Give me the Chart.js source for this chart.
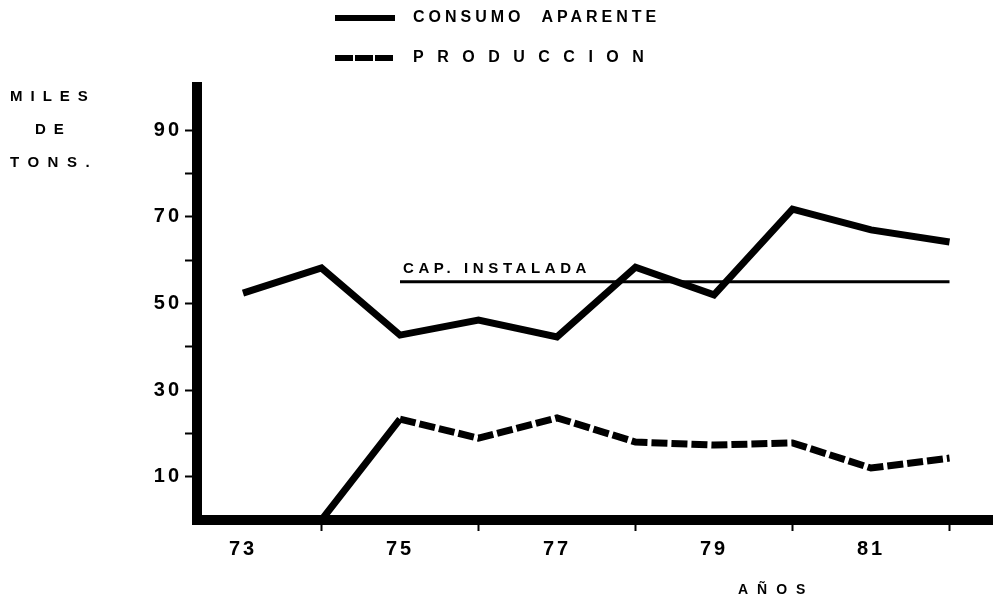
<!DOCTYPE html>
<html lang="es">
<head>
<meta charset="UTF-8" />
<title>Consumo aparente y produccion</title>
<style>
  html, body { margin: 0; padding: 0; background: #fff; }
  #wrap { width: 993px; height: 608px; }
</style>
</head>
<body>
<div id="wrap"><canvas id="chart" width="993" height="608"></canvas></div>

<script src="https://cdn.jsdelivr.net/npm/chart.js"></script>
<script>
  // values
  const years = [73, 74, 75, 76, 77, 78, 79, 80, 81, 82];
  const consumoAparente = [52.4, 58.2, 42.7, 46.2, 42.3, 58.4, 52.0, 71.8, 67.0, 64.2];
  const produccion = [0, 0, 23.3, 18.9, 23.6, 18.0, 17.3, 17.8, 12.0, 14.3];
  const capYears = [75, 82];
  const capInstalada = [55, 55];
  const xTickLabels = [73, 75, 77, 79, 81];
  const yTickLabels = [10, 30, 50, 70, 90];

  const FONT = '"Liberation Sans", Arial, sans-serif';

  function toPoints(xs, ys) {
    return xs.map((x, i) => ({ x: x, y: ys[i] }));
  }

  // spaced out text like the typed labels of the original
  function spacedText(ctx, text, x, y, size, spacing, align) {
    ctx.save();
    ctx.font = 'bold ' + size + 'px ' + FONT;
    ctx.letterSpacing = spacing + 'px';
    ctx.fillStyle = '#000';
    ctx.textBaseline = 'middle';
    ctx.textAlign = align || 'left';
    ctx.fillText(text, x, y);
    ctx.restore();
  }

  const extras = {
    id: 'extras',
    beforeDatasetsDraw(chart) {
      chart.ctx.letterSpacing = '0px';
    },
    beforeDraw(chart) {
      chart.ctx.letterSpacing = '3px';
    },
    afterDraw(chart) {
      const ctx = chart.ctx;
      const xs = chart.scales.x, ys = chart.scales.y;

      // legend
      [[0, 18, 'CONSUMO  APARENTE', 4], [1, 58, 'PRODUCCION', 13.5]].forEach(([i, y, label, sp]) => {
        ctx.save();
        ctx.strokeStyle = '#000';
        ctx.lineWidth = 6;
        ctx.setLineDash(i === 1 ? [18, 2] : []);
        ctx.beginPath();
        ctx.moveTo(335, y);
        ctx.lineTo(395, y);
        ctx.stroke();
        ctx.restore();
        spacedText(ctx, label, 413, y, 16, sp);
      });

      // y title
      spacedText(ctx, 'MILES', 10, 97, 15, 8);
      spacedText(ctx, 'DE', 35, 130, 15, 8);
      spacedText(ctx, 'TONS.', 10, 163, 15, 8.5);

      // x title
      spacedText(ctx, 'AÑOS', 738, 590, 14, 9);

      // installed capacity label
      spacedText(ctx, 'CAP. INSTALADA', xs.getPixelForValue(capYears[0]) + 3,
                 ys.getPixelForValue(capInstalada[0]) - 13, 15, 4.6);
    }
  };

  new Chart(document.getElementById('chart'), {
    type: 'line',
    data: {
      datasets: [
        {
          label: 'CONSUMO APARENTE',
          data: toPoints(years, consumoAparente),
          borderColor: '#000',
          borderWidth: 7,
          pointRadius: 0,
          tension: 0
        },
        {
          label: 'PRODUCCION',
          data: toPoints(years, produccion),
          borderColor: '#000',
          borderWidth: 7,
          pointRadius: 0,
          tension: 0,
          segment: {
            borderDash: c => c.p0DataIndex < 2 ? [] : [16, 4]
          }
        },
        {
          label: 'CAP. INSTALADA',
          data: toPoints(capYears, capInstalada),
          borderColor: '#000',
          borderWidth: 3,
          pointRadius: 0
        }
      ]
    },
    options: {
      responsive: false,
      animation: false,
      layout: { padding: { top: 87, right: 0, left: 0, bottom: 0 } },
      plugins: {
        legend: { display: false },
        tooltip: { enabled: false }
      },
      scales: {
        x: {
          type: 'linear',
          min: 72.414,
          max: 82.554,
          afterFit: s => { s.height = 88; },
          border: { display: true, color: '#000', width: 10 },
          grid: {
            drawOnChartArea: false,
            color: c => (c.tick && xTickLabels.includes(c.tick.value)) ? 'rgba(0,0,0,0)' : '#000',
            tickLength: 11,
            tickWidth: 2
          },
          ticks: {
            stepSize: 1,
            includeBounds: false,
            autoSkip: false,
            maxRotation: 0,
            padding: 6,
            color: '#000',
            font: { family: FONT, size: 20, weight: 'bold' },
            callback: v => xTickLabels.includes(v) ? String(v) : ''
          }
        },
        y: {
          min: 0,
          max: 100,
          afterFit: s => { s.width = 197; },
          border: { display: true, color: '#000', width: 10 },
          grid: {
            drawOnChartArea: false,
            color: c => (c.tick && (c.tick.value === 100 || c.tick.value === 0)) ? 'rgba(0,0,0,0)' : '#000',
            tickLength: 12,
            tickWidth: 2
          },
          ticks: {
            stepSize: 10,
            autoSkip: false,
            padding: 3,
            color: '#000',
            font: { family: FONT, size: 20, weight: 'bold' },
            callback: v => yTickLabels.includes(v) ? String(v) : ''
          }
        }
      }
    },
    plugins: [extras]
  });
</script>
</body>
</html>
